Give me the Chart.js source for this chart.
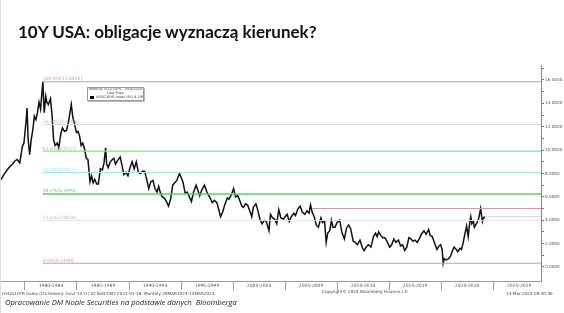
<!DOCTYPE html>
<html>
<head>
<meta charset="utf-8">
<script src="https://cdn.jsdelivr.net/npm/chart.js@4.4.1/dist/chart.umd.min.js"></script>
<style>
  html, body { margin: 0; padding: 0; background: #fff; }
  body { width: 564px; height: 313px; position: relative; overflow: hidden; font-family: "DejaVu Sans", sans-serif; }
  #wrap { position: absolute; left: 0; top: 0; width: 564px; height: 313px; }
  .title { position: absolute; left: 18px; top: 21px; font: bold 17px "Lato", sans-serif; color: #111; white-space: nowrap; }
  .legend { position: absolute; left: 87px; top: 87px; width: 55px; height: 12px; border: 1px solid #999; background: #fff;
            font-size: 3.4px; line-height: 3.9px; color: #333; text-align: center; box-shadow: 1px 1px 0 #bbb;
            white-space: nowrap; overflow: hidden; }
  .legend .row3 { text-align: left; padding-left: 2px; }
  .legend .sq { display: inline-block; width: 4px; height: 3px; background: #000; margin-right: 2px; vertical-align: middle; }
  .small { position: absolute; font-size: 4.2px; color: #444; white-space: nowrap; }
  .foot { position: absolute; left: 5px; top: 297px; font: italic 7.6px "Open Sans", sans-serif; color: #222; white-space: nowrap; }
  .edge { position: absolute; left: 0; top: 0; width: 1px; height: 313px; background: #ddd; }
</style>
</head>
<body>
<div id="wrap"><canvas id="chartContainer" width="564" height="313"></canvas></div>
<div class="edge"></div>
<div class="title">10Y USA: obligacje wyznaczą kierunek?</div>
<div class="legend">
  <div>Monthly 3/31/1974 - 3/14/2024</div>
  <div>Last Price</div>
  <div class="row3"><span class="sq"></span>USGG10YR Index (R1) 4.2997</div>
</div>
<div class="small" style="left:2px; top:291px;">USGG10YR Index (US Generic Govt 10 Yr) AT BidCCMY 2021-01-18 &nbsp;Monthly 29MAR1974-14MAR2024</div>
<div class="small" style="left:322px; top:289px;">Copyright© 2024 Bloomberg Finance L.P.</div>
<div class="small" style="left:506px; top:291px;">14-Mar-2024 09:30:36</div>
<div class="foot">Opracowanie DM Noble Securities na podstawie danych &nbsp;Bloomberga</div>

<script>
// rentowność 10Y USA (odczyt z wykresu), lata dziesiętne
var years = [
  1977.5, 1977.75, 1978.0, 1978.25, 1978.5, 1978.75, 1979.0, 1979.25, 1979.5, 1979.75, 1979.9,
  1980.1, 1980.2, 1980.3, 1980.45, 1980.6, 1980.75, 1980.9,
  1981.05, 1981.2, 1981.35, 1981.5, 1981.6, 1981.72, 1981.85,
  1982.0, 1982.1, 1982.25, 1982.45, 1982.6, 1982.75, 1982.9,
  1983.1, 1983.25, 1983.45, 1983.6, 1983.8,
  1984.0, 1984.2, 1984.45, 1984.6, 1984.75, 1984.95,
  1985.1, 1985.25, 1985.4, 1985.55, 1985.7, 1985.9,
  1986.05, 1986.25, 1986.4, 1986.55, 1986.7, 1986.9,
  1987.05, 1987.25, 1987.45, 1987.6, 1987.75, 1987.85,
  1988.0, 1988.2, 1988.4, 1988.55, 1988.7, 1988.9,
  1989.15, 1989.35, 1989.5, 1989.7, 1989.9,
  1990.1, 1990.3, 1990.5, 1990.7, 1990.9,
  1991.1, 1991.3, 1991.5, 1991.7, 1991.9,
  1992.1, 1992.3, 1992.5, 1992.7, 1992.85,
  1993.0, 1993.2, 1993.4, 1993.6, 1993.8,
  1994.0, 1994.2, 1994.4, 1994.6, 1994.85,
  1995.0, 1995.2, 1995.4, 1995.6, 1995.8,
  1996.0, 1996.2, 1996.45, 1996.6, 1996.8,
  1997.0, 1997.25, 1997.45, 1997.6, 1997.8,
  1998.0, 1998.2, 1998.45, 1998.6, 1998.8,
  1999.0, 1999.2, 1999.45, 1999.6, 1999.85,
  2000.05, 2000.25, 2000.45, 2000.6, 2000.85,
  2001.0, 2001.2, 2001.4, 2001.6, 2001.8, 2001.95,
  2002.2, 2002.4, 2002.6, 2002.8,
  2003.0, 2003.2, 2003.45, 2003.6, 2003.8,
  2004.0, 2004.2, 2004.4, 2004.6, 2004.85,
  2005.0, 2005.2, 2005.4, 2005.6, 2005.85,
  2006.0, 2006.25, 2006.45, 2006.65, 2006.9,
  2007.1, 2007.3, 2007.45, 2007.6, 2007.8,
  2008.0, 2008.2, 2008.45, 2008.6, 2008.8, 2008.95,
  2009.1, 2009.3, 2009.45, 2009.6, 2009.8,
  2010.0, 2010.25, 2010.45, 2010.7, 2010.9,
  2011.1, 2011.3, 2011.55, 2011.75, 2011.95,
  2012.2, 2012.45, 2012.6, 2012.8,
  2013.0, 2013.25, 2013.5, 2013.7, 2013.85,
  2014.0, 2014.2, 2014.4, 2014.6, 2014.8,
  2015.05, 2015.25, 2015.45, 2015.65, 2015.9,
  2016.1, 2016.3, 2016.5, 2016.7, 2016.9,
  2017.1, 2017.3, 2017.5, 2017.7, 2017.9,
  2018.1, 2018.35, 2018.55, 2018.8, 2018.95,
  2019.15, 2019.35, 2019.6, 2019.8, 2019.95,
  2020.1, 2020.2, 2020.3, 2020.5, 2020.7, 2020.9,
  2021.1, 2021.25, 2021.45, 2021.6, 2021.8, 2021.95,
  2022.1, 2022.3, 2022.45, 2022.6, 2022.75, 2022.85, 2022.95,
  2023.1, 2023.2, 2023.45, 2023.6, 2023.8, 2023.9, 2023.97,
  2024.05, 2024.12, 2024.2
];
var yields = [
  7.35, 7.55, 7.95, 8.25, 8.55, 8.75, 9.05, 9.2, 8.9, 10.3, 10.6,
  12.4, 13.6, 11.0, 9.6, 10.9, 11.7, 12.9,
  12.6, 13.2, 14.1, 13.5, 14.6, 15.845, 13.2,
  14.6, 14.1, 13.9, 14.4, 13.0, 10.9, 10.4,
  10.6, 10.2, 11.4, 11.9, 11.6,
  11.7, 12.5, 13.9, 12.8, 12.3, 11.5,
  11.6, 11.2, 10.4, 10.6, 10.2, 9.3,
  9.2, 7.3, 7.8, 7.2, 7.5, 7.1,
  7.1, 8.4, 8.3, 8.9, 10.2, 8.8,
  8.5, 9.0, 9.2, 9.3, 8.8, 9.1,
  9.4, 8.6, 7.9, 8.1, 7.8,
  8.5, 9.0, 8.4, 9.0, 8.1,
  8.0, 8.2, 8.2, 7.5, 6.7,
  7.3, 7.4, 6.7, 6.4, 6.9,
  6.4, 6.0, 5.9, 5.6, 5.2,
  5.8, 7.0, 7.2, 7.4, 8.0,
  7.7, 7.2, 6.3, 6.4, 6.0,
  5.6, 6.4, 7.0, 6.6, 6.1,
  6.6, 7.0, 6.5, 6.2, 5.9,
  5.5, 5.7, 5.5, 5.0, 4.3,
  4.7, 5.3, 5.9, 5.8, 6.2,
  6.7, 6.0, 6.1, 5.8, 5.2,
  5.1, 5.4, 5.3, 4.8, 4.3, 5.1,
  5.4, 4.8, 4.0, 3.7,
  4.0, 3.9, 3.1, 4.5, 4.2,
  4.1, 3.7, 4.9, 4.2, 4.1,
  4.3, 4.5, 3.9, 4.3, 4.6,
  4.4, 5.0, 5.2, 4.7, 4.5,
  4.8, 4.6, 5.3, 4.7, 4.3,
  3.6, 3.4, 4.2, 3.8, 3.9, 2.1,
  2.9, 3.1, 4.0, 3.4, 3.4,
  3.8, 4.0, 3.0, 2.4, 3.3,
  3.6, 3.3, 2.2, 2.1, 1.9,
  2.3, 1.6, 1.4, 1.7,
  1.9, 1.7, 2.6, 2.9, 2.6,
  3.0, 2.7, 2.5, 2.5, 2.2,
  1.7, 1.9, 2.4, 2.1, 2.3,
  1.8, 1.9, 1.4, 1.7, 2.5,
  2.4, 2.2, 2.3, 2.1, 2.4,
  2.8, 3.1, 2.8, 3.2, 2.7,
  2.6, 2.1, 1.5, 1.8, 1.9,
  1.5, 0.318, 0.7, 0.6, 0.7, 0.9,
  1.4, 1.7, 1.5, 1.3, 1.6, 1.5,
  2.0, 2.9, 3.5, 2.6, 3.8, 4.3, 3.7,
  3.9, 3.4, 3.8, 4.1, 4.99, 4.3, 3.9,
  4.2, 4.25, 4.3
];

// poziomy Fibonacciego
var fibStart = 1981.72;
var fibLabels = ['100.0%(15.8450)', '76.4%(12.1806)', '61.8%(9.9137)', '50.0%(8.0815)', '38.2%(6.2493)', '23.6%(3.9824)', '0.0%(0.3180)'];
var fibLevels = [15.845, 12.1806, 9.9137, 8.0815, 6.2493, 3.9824, 0.318];
var fibColors = ['#d39a9a', '#dadada', '#8edb8e', '#a6e6e6', '#62cd62', '#e4e4e4', '#d39a9a'];
var fibWidths = [1, 1, 1.2, 1.2, 1.6, 1, 1];

// krótkie linie po prawej
var extraStarts = [2007.6, 2024.2];
var extraLevels = [5.0, 4.3];
var extraColors = ['#d39a9a', '#d6d6d6'];

var xMin = 1977.6, xMax = 2029.6;
var yMin = -1.2, yMax = 17.28;
var periodMids = [1982.5, 1987.5, 1992.5, 1997.5, 2002.5, 2007.5, 2012.5, 2017.5, 2022.5, 2027.5];
var yTickValues = [0, 1, 2, 3, 4, 5, 6, 7, 8, 9, 10, 11, 12, 13, 14, 15, 16, 17];

var datasets = [];
for (var i = 0; i < fibLevels.length; i++) {
  datasets.push({
    label: fibLabels[i],
    data: [{ x: fibStart, y: fibLevels[i] }, { x: xMax, y: fibLevels[i] }],
    borderColor: fibColors[i],
    borderWidth: fibWidths[i],
    pointRadius: 0,
    fill: false
  });
}
for (var k = 0; k < extraLevels.length; k++) {
  datasets.push({
    label: 'extra' + k,
    data: [{ x: extraStarts[k], y: extraLevels[k] }, { x: xMax, y: extraLevels[k] }],
    borderColor: extraColors[k],
    borderWidth: 1,
    pointRadius: 0,
    fill: false
  });
}
datasets.push({
  label: 'USGG10YR Index',
  data: years.map(function (y, i) { return { x: y, y: yields[i] }; }),
  borderColor: '#111',
  borderWidth: 1.5,
  pointRadius: 0,
  tension: 0,
  fill: false
});

var fibLabelPlugin = {
  id: 'fibLabels',
  afterDatasetsDraw: function (chart) {
    var ctx = chart.ctx;
    var xs = chart.scales.x, ys = chart.scales.y;
    ctx.save();
    ctx.font = '4.5px "DejaVu Sans"';
    ctx.textBaseline = 'bottom';
    ctx.textAlign = 'left';
    for (var i = 0; i < fibLevels.length; i++) {
      ctx.fillStyle = fibColors[i] === '#e4e4e4' || fibColors[i] === '#dadada' ? '#bbbbbb' : fibColors[i];
      ctx.fillText(fibLabels[i], xs.getPixelForValue(fibStart), ys.getPixelForValue(fibLevels[i]) - 0.5);
    }
    ctx.restore();
  }
};

var ctx = document.getElementById('chartContainer').getContext('2d');
var myChart = new Chart(ctx, {
  type: 'line',
  data: { datasets: datasets },
  options: {
    responsive: false,
    animation: false,
    maintainAspectRatio: false,
    layout: { padding: { top: 65, left: 0, right: 0, bottom: 19 } },
    plugins: { legend: { display: false }, tooltip: { enabled: false } },
    scales: {
      x: {
        type: 'linear',
        min: xMin,
        max: xMax,
        afterBuildTicks: function (scale) {
          scale.ticks = periodMids.map(function (v) { return { value: v }; });
        },
        afterFit: function (scale) { scale.height = 13; },
        grid: { offset: true, drawOnChartArea: false, tickLength: 9, color: '#9a9a9a', lineWidth: 1 },
        border: { color: '#9a9a9a' },
        ticks: {
          padding: -7,
          maxRotation: 0,
          autoSkip: false,
          color: '#555',
          font: { size: 4.5, family: 'DejaVu Sans' },
          callback: function (v) { return (v - 2.5) + '-' + (v + 1.5); }
        }
      },
      y: {
        position: 'right',
        min: yMin,
        max: yMax,
        afterBuildTicks: function (scale) {
          scale.ticks = yTickValues.map(function (v) { return { value: v }; });
        },
        afterFit: function (scale) { scale.width = 23; },
        grid: { drawOnChartArea: false, tickLength: 3, color: '#777' },
        border: { color: '#888' },
        ticks: {
          padding: 1,
          color: '#555',
          font: { size: 4.2, family: 'DejaVu Sans' },
          callback: function (v) { return v % 2 === 0 ? v.toFixed(4) : ''; }
        }
      }
    }
  },
  plugins: [fibLabelPlugin]
});
</script>
</body>
</html>
